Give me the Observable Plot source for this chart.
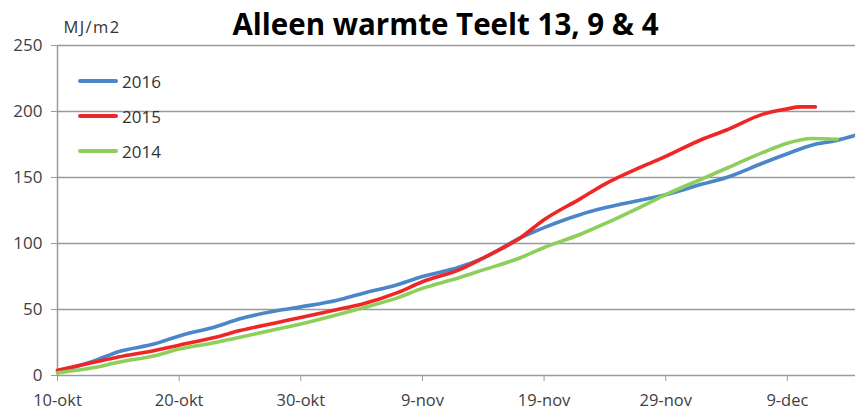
<!DOCTYPE html>
<html><head><meta charset="utf-8">
<script src="https://cdn.jsdelivr.net/npm/d3@7"></script>
<script src="https://cdn.jsdelivr.net/npm/@observablehq/plot@0.6"></script>
<style>
body{margin:0;background:#fff;font-family:'Open Sans',sans-serif;}
#wrap{position:relative;width:855px;height:415px;overflow:hidden;}
.leg{position:absolute;left:78px;height:20px;display:flex;align-items:center;font-size:17px;color:#333;}
.leg span.sw{display:inline-block;width:40px;height:4px;border-radius:2px;margin-right:4px;}
</style></head><body><div id="wrap"></div>
<script>
const titleText = "Alleen warmte Teelt 13, 9 & 4";
const unitText = "MJ/m2";
const tickDays = [0, 10, 20, 30, 40, 50, 60];
const tickLabels = ["10-okt", "20-okt", "30-okt", "9-nov", "19-nov", "29-nov", "9-dec"];
const yTicks = [0, 50, 100, 150, 200, 250];
const seriesNames = ["2016", "2015", "2014"];
const seriesColors = ["#4a86c8", "#f02626", "#8ccf5a"];

const days2016 = [0,3,5,8,10,13,15,18,20,23,25,28,30,33,35,38,40,43,45,48,50,53,55,58,60,62,64,65.6];
const values2016 = [3,11,18,24,30,37,43,49,52,57,62,69,75,82,89,104,112,122,127,133,137,145,150,161,168,174.5,178,182];

const days2015 = [0,3,5,8,10,13,15,18,20,23,25,28,30,33,35,38,40,43,45,48,50,53,55,58,60,61,62.3];
const values2015 = [4,10,14,19,23,29,34,40,44,50,54,63,71,80,89,104,118,134,145,158,166,179,186,198,202,203.5,203.5];

const days2014 = [0,3,5,8,10,13,15,18,20,23,25,28,30,33,35,38,40,43,45,48,50,53,55,58,60,62,64.1];
const values2014 = [2,6,10,15,20,25,29,35,39,46,51,59,66,74,80,89,97,107,115,128,137,149,157,169,176,179.5,179];

const rows = [];
[[days2016, values2016], [days2015, values2015], [days2014, values2014]].forEach(([ds, vs], k) => {
  ds.forEach((d, i) => rows.push({day: d, value: vs[i], series: seriesNames[k]}));
});

const chart = Plot.plot({
  width: 855, height: 415,
  marginLeft: 57, marginRight: 0, marginTop: 45, marginBottom: 40,
  style: {fontFamily: "'Open Sans', sans-serif", background: "#fff", overflow: "visible"},
  x: {domain: [0, 65.6], label: null},
  y: {domain: [0, 250], label: null},
  color: {domain: seriesNames, range: seriesColors},
  marks: [
    Plot.gridY(yTicks, {stroke: "#9a9a9a", strokeOpacity: 1, strokeWidth: 1.5}),
    Plot.ruleX([0], {stroke: "#9a9a9a", strokeWidth: 1.5}),
    Plot.axisY(yTicks, {tickSize: 6, tickPadding: 9, fontSize: 17, stroke: "#9a9a9a", fill: "#404040", label: null}),
    Plot.axisX(tickDays, {tickSize: 6, tickPadding: 13, fontSize: 16.5, stroke: "#9a9a9a", fill: "#404040", tickFormat: (d) => tickLabels[tickDays.indexOf(d)], label: null}),
    Plot.line(rows, {x: "day", y: "value", z: "series", stroke: "series", strokeWidth: 3.6, strokeLinecap: "round", strokeLinejoin: "round", curve: "monotone-x"}),
    Plot.text([titleText], {frameAnchor: "top", lineAnchor: "top", dx: -11, dy: -31, fontSize: 29.5, fontWeight: "bold", fill: "#000", textAnchor: "middle", className: "ttl"}),
    Plot.text([unitText], {frameAnchor: "top-left", lineAnchor: "top", dx: 6, dy: -24, fontSize: 16.5, fill: "#333", textAnchor: "start", className: "unit"})
  ]
});
d3.select(chart).selectAll(".unit text").attr("letter-spacing", "1.4px");
const wrap = document.getElementById("wrap");
wrap.appendChild(chart);
const legTops = [71, 106, 141];
seriesNames.forEach((n, i) => {
  const d = document.createElement("div");
  d.className = "leg";
  d.style.top = legTops[i] + "px";
  d.innerHTML = `<span class="sw" style="background:${seriesColors[i]}"></span>${n}`;
  wrap.appendChild(d);
});
</script></body></html>
